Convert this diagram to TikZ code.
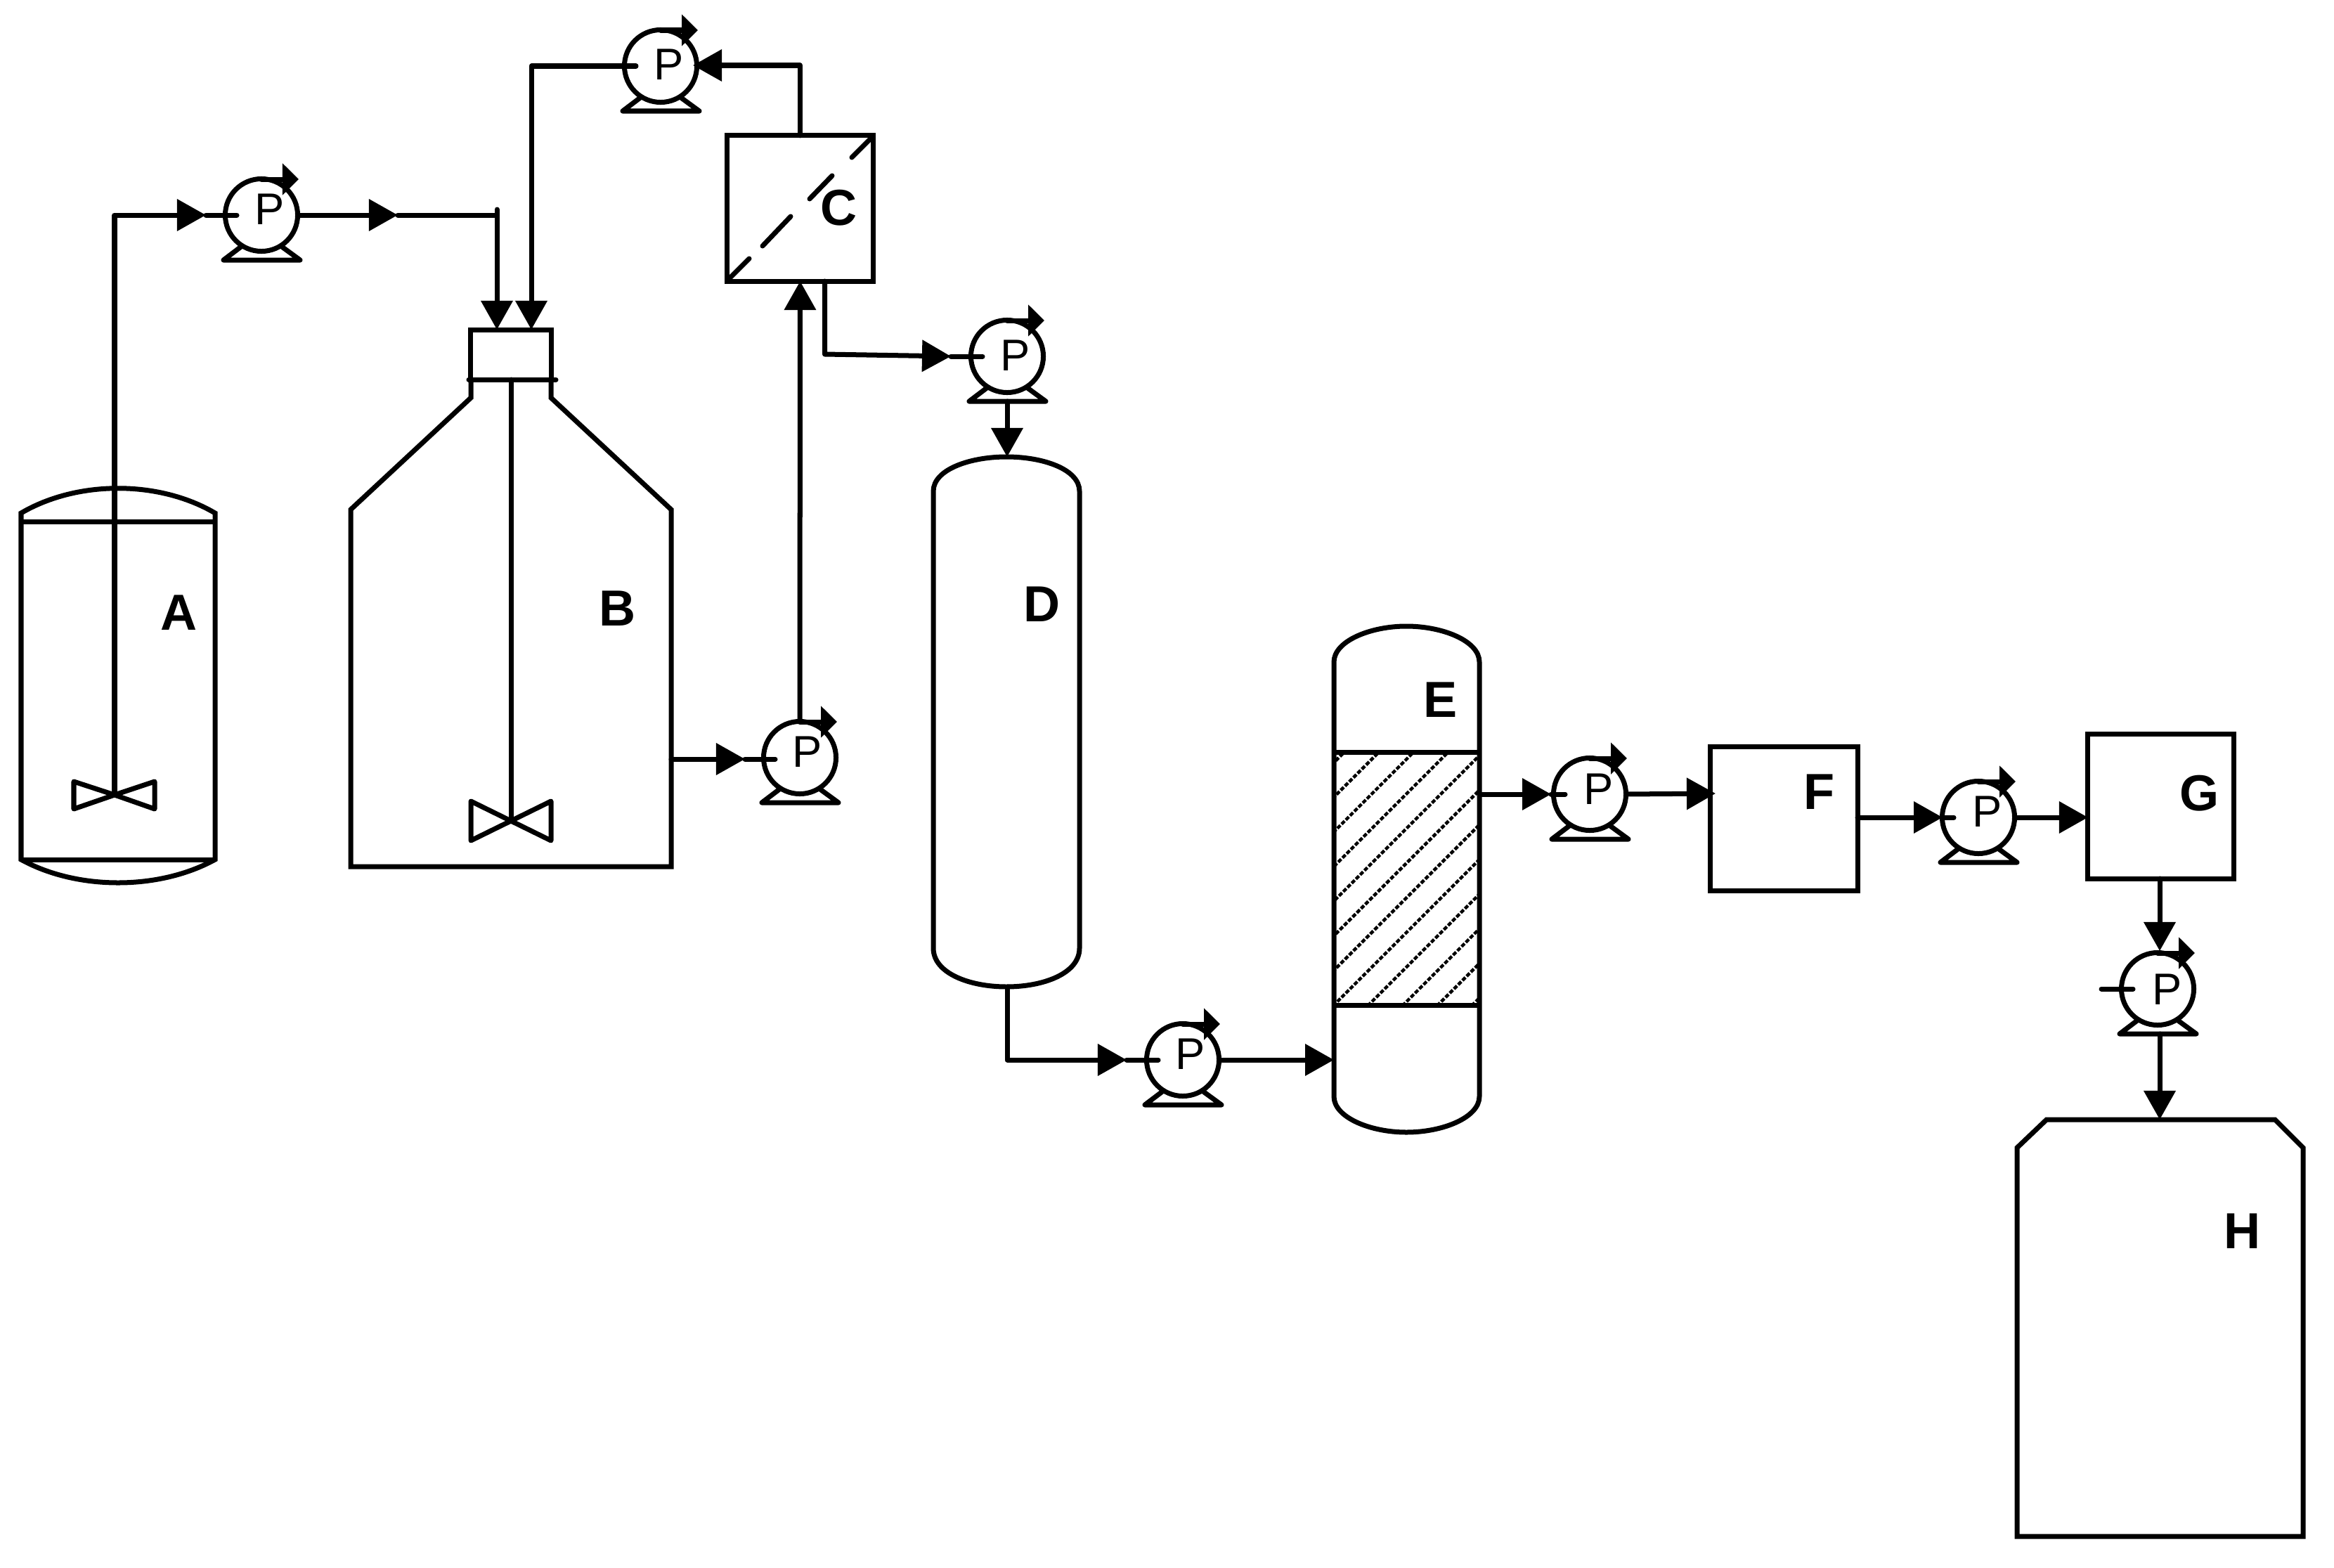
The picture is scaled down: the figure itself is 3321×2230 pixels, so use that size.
\documentclass[tikz,border=0pt]{standalone}
\usepackage{fontspec}
\setmainfont{Liberation Sans}
\usetikzlibrary{arrows.meta,calc}
\tikzset{
  lw/.style={line width=0.07cm,line join=round,line cap=round},
  conn/.style={lw,-{Triangle[length=0.41cm,width=0.44cm]}},
  plain/.style={lw},
  vessel/.style={line width=0.07cm,line join=miter},
  pumpbody/.style={circle,draw,line width=0.07cm,minimum size=1.03cm,inner sep=0pt,outer sep=0pt},
  ptext/.style={inner sep=0pt,font=\fontsize{18}{18}\selectfont},
  tag/.style={inner sep=0pt,font=\fontsize{20.5}{20.5}\selectfont\bfseries},
  boxnode/.style={rectangle,draw,line width=0.07cm,inner sep=0pt,outer sep=0pt},
  hatchline/.style={line width=0.045cm,dash pattern=on 0.06cm off 0.025cm}
}
% name, x, y, P offset x, P offset y
\newcommand{\pumpunit}[5]{%
  \node[pumpbody] (#1) at (#2,#3) {};
  \node[ptext] (#1t) at (#2+#4,#3+#5) {P};
  \coordinate (#1s) at (#2-35,#3);
  \coordinate (#1bl) at (#2-54,#3+64);
  \coordinate (#1br) at (#2+55,#3+64);
  \coordinate (#1ll) at (#2-29,#3+45);
  \coordinate (#1lr) at (#2+29,#3+45);
  \coordinate (#1ra) at (#2,#3-51);
  \coordinate (#1rb) at (#2+53,#3-51);
  \draw[plain] (#1ll) -- (#1bl) -- (#1br) -- (#1lr);
  \draw[lw,-{Triangle[length=0.23cm,width=0.44cm]}] (#1ra) -- (#1rb);
}
\begin{document}
\begin{tikzpicture}[x=0.01cm,y=-0.01cm]
\useasboundingbox (0,0) rectangle (3321,2230);
\fill[white] (0,0) rectangle (3321,2230);

% --- Vessel A
\draw[vessel] (30,1223) -- (30,730) .. controls (110,683) and (226,683) .. (306,730) -- (306,1223) .. controls (226,1267) and (110,1267) .. (30,1223) -- cycle;
\draw[vessel] (30,742) -- (306,742);
\draw[vessel] (30,1223) -- (306,1223);
\coordinate (Aimp) at (163,1131);
\draw[plain] (105,1112) -- (Aimp) -- (220,1151) -- (220,1112) -- (Aimp) -- (105,1151) -- cycle;
\node[tag] (labA) at (255,872) {A};

% --- Vessel B
\draw[vessel] (670,540) -- (670,566) -- (499,725) -- (499,1233) -- (955,1233) -- (955,725) -- (784,566) -- (784,540);
\node[boxnode,minimum width=1.14cm,minimum height=0.7cm] (Bneck) at (727,505) {};
\draw[plain] (667,540) -- (791,540);
\coordinate (Bimp) at (727,1168);
\draw[plain] (Bneck.south) -- (Bimp);
\draw[plain] (670,1140) -- (Bimp) -- (784,1196) -- (784,1140) -- (Bimp) -- (670,1196) -- cycle;
\node[tag] (labB) at (879,866) {B};

% --- Membrane C
\node[boxnode,minimum width=2.07cm,minimum height=2.07cm] (C) at (1138.5,296.5) {};
\draw[plain] (1036,398) -- (1066,368);
\draw[plain] (1085,350) -- (1125,308);
\draw[plain] (1152,283) -- (1184,250);
\draw[plain] (1212,224) -- (1241,195);
\node[tag] (labC) at (1194,296) {C};

% --- Column D
\draw[vessel] (1328,699) .. controls (1328,668) and (1380,650) .. (1432,650) .. controls (1485,650) and (1536,668) .. (1536,699) -- (1536,1349) .. controls (1536,1385) and (1485,1404) .. (1432,1404) .. controls (1380,1404) and (1328,1385) .. (1328,1349) -- cycle;
\coordinate (Dtop) at (1433,650);
\coordinate (Dbot) at (1433,1404);
\node[tag] (labD) at (1483,860) {D};

% --- Column E
\begin{scope}
\clip (1898,1070) rectangle (2105,1430);
\foreach \k in {-4,...,7} {
  \pgfmathsetmacro{\s}{3180+49.3*\k}
  \draw[hatchline] (\s-1060,1060) -- (\s-1440,1440);
}
\end{scope}
\draw[vessel] (1898,942) .. controls (1898,912) and (1950,891) .. (2001,891) .. controls (2053,891) and (2105,912) .. (2105,942) -- (2105,1560) .. controls (2105,1590) and (2053,1611) .. (2001,1611) .. controls (1950,1611) and (1898,1590) .. (1898,1560) -- cycle;
\draw[vessel] (1898,1070) -- (2105,1070);
\draw[vessel] (1898,1430) -- (2105,1430);
\coordinate (Ein) at (1898,1508);
\coordinate (Eout) at (2105,1130);
\node[tag] (labE) at (2050,996) {E};

% --- Boxes F, G
\node[boxnode,minimum width=2.09cm,minimum height=2.05cm] (F) at (2538.5,1165) {};
\node[tag] (labF) at (2588,1127) {F};
\node[boxnode,minimum width=2.07cm,minimum height=2.05cm] (G) at (3074.5,1147.5) {};
\node[tag] (labG) at (3129,1129) {G};

% --- Tank H
\draw[vessel] (2870,2186) -- (2870,1633) -- (2912,1593) -- (3237,1593) -- (3277,1633) -- (3277,2186) -- cycle;
\coordinate (Htop) at (3073,1593);
\node[tag] (labH) at (3190,1752) {H};

% --- Pumps
\pumpunit{pa}{372}{306}{12}{-8}
\pumpunit{pb}{1138}{1078}{11}{-8}
\pumpunit{pc}{940}{94}{12}{-2}
\pumpunit{pd}{1433}{507}{12}{-1}
\pumpunit{pe}{1683}{1508}{11}{-8}
\pumpunit{pf}{2262}{1130}{13}{-7}
\pumpunit{pg}{2815}{1163}{13}{-8}
\pumpunit{ph}{3070}{1407}{14}{1}

% --- Connectors
\coordinate (t1) at (293,306);
\draw[conn] (Aimp) -- (163,306) -- (t1);
\draw[plain] (t1) -- (pas);
\coordinate (m1) at (566,306);
\draw[conn] (pa.east) -- (m1);
\coordinate (t2) at (707,469);
\draw[plain] (m1) -- (707,306);
\draw[conn] (707,298) -- (t2);

\coordinate (t3) at (1060,1080);
\draw[conn] (955,1080) -- (t3);
\draw[plain] (t3) -- (1103,1080);
\draw[conn] (pb.north) -- (C.south);

\coordinate (t4) at (986,93);
\draw[conn] (C.north) -- (1138.5,93) -- (t4);
\coordinate (t5) at (756,469);
\draw[conn] (pcs) -- (756,94) -- (t5);

\coordinate (t6) at (1353,507);
\draw[conn] (1173.5,400) -- (1173.5,504) -- (t6);
\draw[plain] (t6) -- (pds);
\draw[conn] (pdbl -| Dtop) -- (Dtop);

\coordinate (t7) at (1603,1508);
\draw[conn] (Dbot) -- (1433,1508) -- (t7);
\draw[plain] (t7) -- (pes);
\draw[conn] (pe.east) -- (Ein);

\coordinate (t8) at (2207,1130);
\draw[conn] (Eout) -- (t8);
\draw[plain] (t8) -- (pfs);
\coordinate (t9) at (2441,1129);
\draw[conn] (pf.east) -- (t9);

\coordinate (t10) at (2764,1163);
\draw[conn] (2643,1163) -- (t10);
\draw[plain] (t10) -- (pgs);
\draw[conn] (pg.east) -- (G.west |- pg.east);

\draw[conn] (3073,1250) -- (3073,1353);
\draw[plain] (2990,1407) -- (phs);
\draw[conn] (3073,1471) -- (Htop);
\end{tikzpicture}
\end{document}
